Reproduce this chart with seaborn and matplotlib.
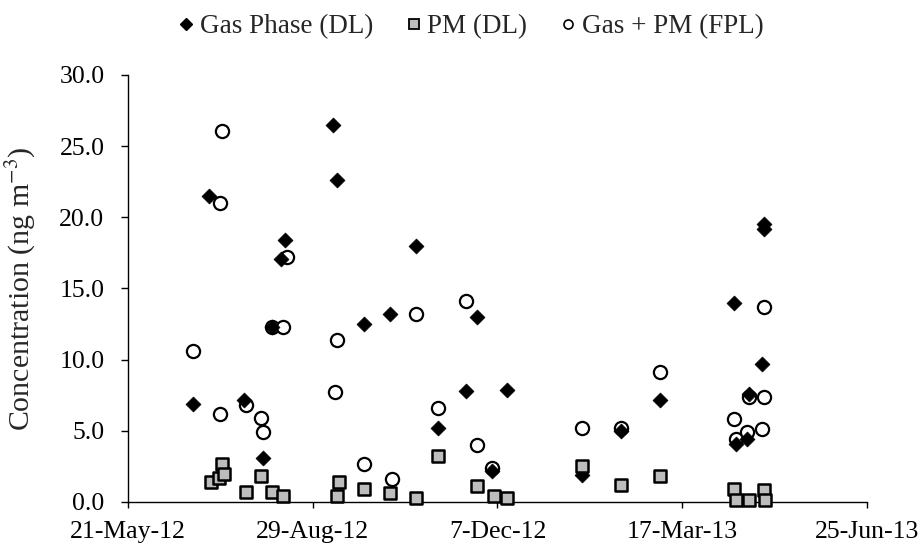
import matplotlib
matplotlib.use("Agg")
import matplotlib.pyplot as plt
from matplotlib.lines import Line2D
import seaborn as sns
import pandas as pd

# Gas phase (detection-limit method)
gas_dates = ["2012-06-25", "2012-07-04", "2012-07-23", "2012-08-02", "2012-08-07",
             "2012-08-12", "2012-08-14", "2012-09-09", "2012-09-11", "2012-09-26",
             "2012-10-10", "2012-10-24", "2012-11-05", "2012-11-20", "2012-11-26",
             "2012-12-04", "2012-12-12", "2013-01-22", "2013-02-12", "2013-03-05",
             "2013-04-14", "2013-04-15", "2013-04-21", "2013-04-22", "2013-04-29",
             "2013-04-30", "2013-04-30"]
gas_values = [6.9, 21.5, 7.2, 3.1, 12.3,
              17.1, 18.4, 26.5, 22.6, 12.5,
              13.2, 18.0, 5.2, 7.8, 13.0,
              2.2, 7.9, 1.9, 5.0, 7.2,
              14.0, 4.1, 4.4, 7.6, 9.7,
              19.5, 19.2]

# Particulate matter (detection-limit method)
pm_dates = ["2012-07-05", "2012-07-09", "2012-07-11", "2012-07-12", "2012-07-24",
            "2012-08-01", "2012-08-07", "2012-08-13", "2012-09-11", "2012-09-12",
            "2012-09-26", "2012-10-10", "2012-10-24", "2012-11-05", "2012-11-26",
            "2012-12-05", "2012-12-12", "2013-01-22", "2013-02-12", "2013-03-05",
            "2013-04-14", "2013-04-15", "2013-04-22", "2013-04-30", "2013-05-01"]
pm_values = [1.4, 1.7, 2.7, 2.0, 0.7,
             1.8, 0.7, 0.4, 0.4, 1.4,
             0.9, 0.6, 0.3, 3.2, 1.1,
             0.4, 0.3, 2.5, 1.2, 1.8,
             0.9, 0.15, 0.15, 0.85, 0.15]

# Gas + PM (FPL method)
fpl_dates = ["2012-06-25", "2012-07-11", "2012-07-10", "2012-07-10", "2012-07-24",
             "2012-08-01", "2012-08-02", "2012-08-07", "2012-08-13", "2012-08-15",
             "2012-09-11", "2012-09-10", "2012-09-26", "2012-10-11", "2012-10-24",
             "2012-11-05", "2012-11-20", "2012-11-26", "2012-12-04", "2013-01-22",
             "2013-02-12", "2013-03-05", "2013-04-14", "2013-04-15", "2013-04-21",
             "2013-04-22", "2013-04-29", "2013-04-30", "2013-04-30"]
fpl_values = [10.6, 26.1, 21.0, 6.2, 6.8,
              5.9, 4.9, 12.3, 12.3, 17.2,
              11.4, 7.7, 2.7, 1.6, 13.2,
              6.6, 14.1, 4.0, 2.4, 5.2,
              5.2, 9.1, 5.8, 4.4, 4.9,
              7.4, 5.1, 7.4, 13.7]

series_labels = ["Gas Phase (DL)", "PM (DL)", "Gas + PM (FPL)"]
tick_dates = ["2012-05-21", "2012-08-29", "2012-12-07", "2013-03-17", "2013-06-25"]
tick_labels = ["21-May-12", "29-Aug-12", "7-Dec-12", "17-Mar-13", "25-Jun-13"]
y_ticks = [0, 5, 10, 15, 20, 25, 30]

sns.set_theme(style="white")
plt.rcParams["font.family"] = ["Liberation Serif", "DejaVu Serif"]
plt.rcParams["mathtext.fontset"] = "stix"

gas = pd.DataFrame({"date": pd.to_datetime(gas_dates), "value": gas_values})
pm = pd.DataFrame({"date": pd.to_datetime(pm_dates), "value": pm_values})
fpl = pd.DataFrame({"date": pd.to_datetime(fpl_dates), "value": fpl_values})

fig = plt.figure(figsize=(9.23, 5.47), dpi=100)
ax = fig.add_axes([0.1387, 0.0823, 0.8006, 0.7806])

sns.scatterplot(data=fpl, x="date", y="value", ax=ax, marker="o", s=90,
                facecolor="white", edgecolor="black", linewidth=1.6, zorder=3,
                clip_on=False)
sns.scatterplot(data=gas, x="date", y="value", ax=ax, marker="D", s=58,
                color="black", edgecolor="black", linewidth=0.5, zorder=4,
                clip_on=False)
sns.scatterplot(data=pm, x="date", y="value", ax=ax, marker="s", s=72,
                facecolor="#bdbdbd", edgecolor="black", linewidth=1.8, zorder=5,
                clip_on=False)

ax.set_xlim(pd.Timestamp(tick_dates[0]), pd.Timestamp(tick_dates[-1]))
ax.set_ylim(0, 30)
ax.set_xticks(pd.to_datetime(tick_dates))
ax.set_xticklabels(tick_labels)
ax.set_yticks(y_ticks)
ax.set_yticklabels([f"{v:.1f}" for v in y_ticks])
ax.set_xlabel("")
ax.set_ylabel("Concentration (ng m$^{\\mathrm{-3}}$)", fontsize=21.5)
ax.yaxis.set_label_coords(-0.122, 0.5)

ax.tick_params(axis="y", direction="out", length=5, width=1, pad=12,
               labelsize=18.5, left=True, colors="black")
ax.tick_params(axis="x", direction="out", length=4, width=1, pad=10,
               labelsize=18.5, bottom=True, colors="black")
for side in ("top", "right"):
    ax.spines[side].set_visible(False)
for side in ("left", "bottom"):
    ax.spines[side].set_color("black")
    ax.spines[side].set_linewidth(1.0)

handles = [
    Line2D([], [], linestyle="none", marker="D", markersize=6,
           markerfacecolor="black", markeredgecolor="black"),
    Line2D([], [], linestyle="none", marker="s", markersize=7,
           markerfacecolor="#bdbdbd", markeredgecolor="black", markeredgewidth=1.3),
    Line2D([], [], linestyle="none", marker="o", markersize=6.5,
           markerfacecolor="white", markeredgecolor="black", markeredgewidth=1.2),
]
fig.legend(handles, series_labels, loc="center", bbox_to_anchor=(0.51, 0.951),
           ncol=3, frameon=False, fontsize=19.5, handlelength=0.6,
           handletextpad=0.2, columnspacing=1.2)

fig.savefig("out.png", dpi=100)
